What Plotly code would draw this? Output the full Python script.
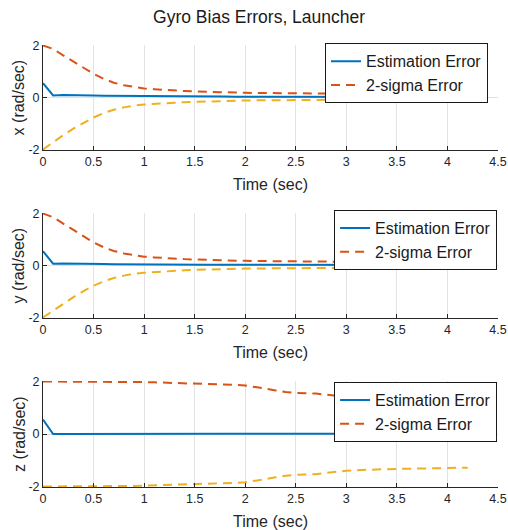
import plotly.graph_objects as go

# ---------------- data ----------------
t = [0.0, 0.1, 0.2, 0.3, 0.4, 0.5, 0.6, 0.7, 0.8, 0.9,
     1.0, 1.1, 1.2, 1.3, 1.4, 1.5, 1.6, 1.7, 1.8, 1.9,
     2.0, 2.1, 2.2, 2.3, 2.4, 2.5, 2.6, 2.7, 2.8, 2.9,
     3.0, 3.1, 3.2, 3.3, 3.4, 3.5, 3.6, 3.7, 3.8, 3.9,
     4.0, 4.1, 4.2]

x_est = [0.55, 0.08, 0.10, 0.10, 0.09, 0.08, 0.07, 0.065, 0.06, 0.055,
         0.05, 0.048, 0.045, 0.043, 0.04, 0.04, 0.038, 0.036, 0.035, 0.034,
         0.033, 0.032, 0.031, 0.03, 0.03, 0.03, 0.029, 0.028, 0.028, 0.027,
         0.027, 0.026, 0.026, 0.025, 0.025, 0.025, 0.024, 0.024, 0.024, 0.023,
         0.023, 0.023, 0.022]
x_up = [2.0, 1.87, 1.62, 1.38, 1.14, 0.91, 0.72, 0.57, 0.47, 0.40,
        0.35, 0.32, 0.29, 0.27, 0.25, 0.235, 0.22, 0.21, 0.20, 0.19,
        0.18, 0.175, 0.17, 0.165, 0.16, 0.155, 0.15, 0.148, 0.145, 0.142,
        0.14, 0.137, 0.135, 0.132, 0.13, 0.128, 0.126, 0.124, 0.122, 0.12,
        0.119, 0.118, 0.117]
x_lo = [-2.0, -1.72, -1.45, -1.2, -0.98, -0.77, -0.6, -0.47, -0.38, -0.31,
        -0.27, -0.24, -0.22, -0.2, -0.18, -0.165, -0.15, -0.14, -0.13, -0.12,
        -0.115, -0.11, -0.105, -0.1, -0.097, -0.094, -0.091, -0.088, -0.086, -0.084,
        -0.082, -0.08, -0.078, -0.077, -0.076, -0.075, -0.074, -0.073, -0.072, -0.071,
        -0.07, -0.069, -0.068]

y_est = [0.55, 0.07, 0.08, 0.08, 0.07, 0.06, 0.055, 0.05, 0.045, 0.042,
         0.04, 0.038, 0.036, 0.034, 0.033, 0.032, 0.031, 0.03, 0.029, 0.028,
         0.028, 0.027, 0.027, 0.026, 0.026, 0.025, 0.025, 0.025, 0.024, 0.024,
         0.024, 0.023, 0.023, 0.023, 0.022, 0.022, 0.022, 0.021, 0.021, 0.021,
         0.02, 0.02, 0.02]
y_up = [2.0, 1.86, 1.61, 1.37, 1.12, 0.89, 0.70, 0.56, 0.46, 0.39,
        0.34, 0.31, 0.28, 0.26, 0.245, 0.23, 0.215, 0.205, 0.195, 0.185,
        0.178, 0.172, 0.167, 0.162, 0.158, 0.153, 0.149, 0.146, 0.143, 0.14,
        0.137, 0.135, 0.133, 0.13, 0.128, 0.126, 0.124, 0.122, 0.12, 0.119,
        0.118, 0.117, 0.116]
y_lo = [-2.0, -1.74, -1.47, -1.22, -0.99, -0.78, -0.61, -0.48, -0.39, -0.32,
        -0.28, -0.25, -0.22, -0.2, -0.185, -0.17, -0.155, -0.145, -0.135, -0.125,
        -0.12, -0.115, -0.11, -0.105, -0.1, -0.097, -0.094, -0.091, -0.089, -0.087,
        -0.085, -0.083, -0.081, -0.08, -0.079, -0.078, -0.077, -0.076, -0.075, -0.074,
        -0.073, -0.072, -0.071]

z_est = [0.55, 0.0, 0.0, 0.002, 0.004, 0.005, 0.006, 0.007, 0.008, 0.008,
         0.009, 0.009, 0.01, 0.01, 0.01, 0.01, 0.01, 0.01, 0.01, 0.01,
         0.01, 0.01, 0.01, 0.01, 0.01, 0.01, 0.01, 0.01, 0.01, 0.01,
         0.01, 0.01, 0.01, 0.01, 0.01, 0.01, 0.01, 0.01, 0.01, 0.01,
         0.01, 0.01, 0.01]
z_up = [2.0, 2.0, 2.0, 2.0, 2.0, 2.0, 2.0, 1.99, 1.99, 1.98,
        1.98, 1.97, 1.96, 1.95, 1.94, 1.93, 1.92, 1.91, 1.89, 1.87,
        1.85, 1.8, 1.73, 1.66, 1.6, 1.57, 1.56, 1.54, 1.5, 1.45,
        1.41, 1.39, 1.37, 1.36, 1.35, 1.34, 1.33, 1.32, 1.31, 1.31,
        1.3, 1.29, 1.29]
z_lo = [-2.0, -2.0, -2.0, -2.0, -2.0, -1.99, -1.99, -1.99, -1.98, -1.98,
        -1.97, -1.96, -1.95, -1.94, -1.93, -1.92, -1.91, -1.9, -1.88, -1.86,
        -1.84, -1.79, -1.72, -1.65, -1.59, -1.56, -1.55, -1.53, -1.48, -1.43,
        -1.4, -1.38, -1.36, -1.35, -1.34, -1.33, -1.32, -1.31, -1.31, -1.3,
        -1.3, -1.29, -1.29]

x_ticks = [0, 0.5, 1, 1.5, 2, 2.5, 3, 3.5, 4, 4.5]
x_ticktext = ["0", "0.5", "1", "1.5", "2", "2.5", "3", "3.5", "4", "4.5"]
y_ticks = [-2, 0, 2]
y_ticktext = ["-2", "0", "2"]

axis_names = ["x", "y", "z"]
series = [(x_est, x_up, x_lo), (y_est, y_up, y_lo), (z_est, z_up, z_lo)]

# ---------------- style ----------------
BLUE = "#0072BD"
ORANGE = "#D95319"
YELLOW = "#EDB120"
AXC = "#262626"
GRIDC = "#e3e3e3"
FONT = "Liberation Sans, Arial, sans-serif"
DASH = "9px,6px"

domains = [[0.7624, 1.0], [0.3824, 0.6199], [0.0, 0.2398]]
legend_pos = [(0.978, 1.004), (0.998, 0.6264), (0.998, 0.2373)]

fig = go.Figure()
for i, (est, up, lo) in enumerate(series):
    xa = "x" if i == 0 else f"x{i+1}"
    ya = "y" if i == 0 else f"y{i+1}"
    lg = "legend" if i == 0 else f"legend{i+1}"
    fig.add_trace(go.Scatter(x=t, y=est, mode="lines", name="Estimation Error",
                             line=dict(color=BLUE, width=2), xaxis=xa, yaxis=ya,
                             legend=lg))
    fig.add_trace(go.Scatter(x=t, y=up, mode="lines", name="2-sigma Error",
                             line=dict(color=ORANGE, width=2, dash=DASH),
                             xaxis=xa, yaxis=ya, legend=lg))
    fig.add_trace(go.Scatter(x=t, y=lo, mode="lines", name="2-sigma Error",
                             line=dict(color=YELLOW, width=2, dash=DASH),
                             xaxis=xa, yaxis=ya, legend=lg, showlegend=False))

annotations = []
layout = dict(
    width=508, height=530,
    margin=dict(l=43, r=10, t=45, b=43, autoexpand=False),
    paper_bgcolor="white", plot_bgcolor="white",
    font=dict(family=FONT, color=AXC),
    showlegend=True,
    title=dict(text="Gyro Bias Errors, Launcher", x=0.51, xanchor="center",
               y=0.968, yanchor="middle",
               font=dict(size=17.5, color="#1a1a1a", family=FONT)),
)

for i in range(3):
    xk = "xaxis" if i == 0 else f"xaxis{i+1}"
    yk = "yaxis" if i == 0 else f"yaxis{i+1}"
    xa = "x" if i == 0 else f"x{i+1}"
    ya = "y" if i == 0 else f"y{i+1}"
    lk = "legend" if i == 0 else f"legend{i+1}"
    layout[xk] = dict(
        domain=[0, 1], anchor=ya, range=[0, 4.5], automargin=False,
        tickmode="array", tickvals=x_ticks, ticktext=x_ticktext,
        ticks="inside", ticklen=4, tickcolor=AXC,
        showline=True, linecolor=AXC, linewidth=1, mirror=False,
        showgrid=True, gridcolor=GRIDC, gridwidth=1, zeroline=False,
        tickfont=dict(size=12.5, color=AXC, family=FONT),
        title=dict(text="Time (sec)", font=dict(size=16, color=AXC, family=FONT),
                   standoff=10),
    )
    layout[yk] = dict(
        domain=domains[i], anchor=xa, range=[-2.02, 2.02], automargin=False,
        tickmode="array", tickvals=y_ticks, ticktext=y_ticktext,
        ticks="inside", ticklen=4, tickcolor=AXC,
        showline=True, linecolor=AXC, linewidth=1, mirror=False,
        showgrid=True, gridcolor=GRIDC, gridwidth=1, zeroline=False,
        tickfont=dict(size=12.5, color=AXC, family=FONT),
    )
    # y-axis title placed as a rotated annotation for precise positioning
    annotations.append(dict(
        text=f"{axis_names[i]} (rad/sec)", textangle=-90,
        xref="paper", yref="paper",
        x=-0.053, y=(domains[i][0] + domains[i][1]) / 2,
        xanchor="center", yanchor="middle", showarrow=False,
        font=dict(size=16, color=AXC, family=FONT),
    ))
    lx, ly = legend_pos[i]
    layout[lk] = dict(
        x=lx, y=ly, xanchor="right", yanchor="top",
        xref="paper", yref="paper",
        bgcolor="white", bordercolor="#1a1a1a", borderwidth=1,
        font=dict(size=16, color="#1a1a1a", family=FONT),
        tracegroupgap=0, itemwidth=30,
    )

layout["annotations"] = annotations
fig.update_layout(**layout)
fig.write_html(
    "out.html",
    config={"displayModeBar": False},
    post_script="document.body.style.margin='0';document.body.style.overflow='hidden';",
)
